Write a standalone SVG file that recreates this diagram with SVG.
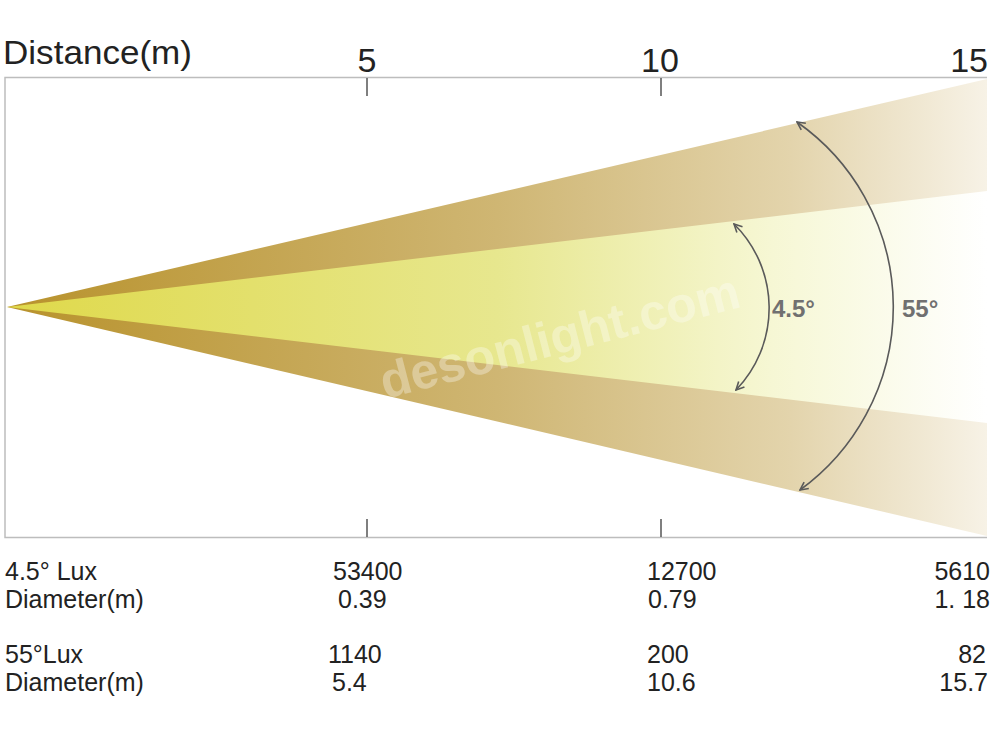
<svg xmlns="http://www.w3.org/2000/svg" width="1000" height="755" viewBox="0 0 1000 755">
<style>
.t{font-family:"Liberation Sans",Arial,sans-serif;fill:#222}
.ax{stroke:#bdbdbd;stroke-width:1.5;fill:none}
.tick{stroke:#555;stroke-width:1.5}
.arc{fill:none;stroke:#5a5a5a;stroke-width:1.6;marker-start:url(#ah);marker-end:url(#ah)}
.ang{font-family:"Liberation Sans",Arial,sans-serif;font-weight:bold;font-size:24px;fill:#707070}
</style>
<defs>
<linearGradient id="gOuter" gradientUnits="userSpaceOnUse" x1="7" y1="0" x2="987" y2="0">
<stop offset="0" stop-color="#b8922c"/>
<stop offset="0.5" stop-color="#cfb673"/>
<stop offset="0.8" stop-color="#e3d4ac"/>
<stop offset="1" stop-color="#f7f2e6"/>
</linearGradient>
<linearGradient id="gInner" gradientUnits="userSpaceOnUse" x1="7" y1="0" x2="987" y2="0">
<stop offset="0" stop-color="#dfd94a"/>
<stop offset="0.5" stop-color="#e7e78e"/>
<stop offset="0.78" stop-color="#f6f7d4"/>
<stop offset="1" stop-color="#ffffff"/>
</linearGradient>
<marker id="ah" viewBox="0 0 10 10" refX="9" refY="5" markerWidth="10" markerHeight="10" markerUnits="userSpaceOnUse" orient="auto-start-reverse">
<path d="M1,1 L9,5 L1,9" fill="none" stroke="#5a5a5a" stroke-width="1.6"/>
</marker>
</defs>
<rect width="1000" height="755" fill="#fff"/>
<g id="beam">
<polygon points="7,307 987,79 987,536" fill="url(#gOuter)"/>
<polygon points="7,307 987,191 987,423" fill="url(#gInner)"/>
</g>
<text x="385" y="399" transform="rotate(-14.5 385 399)" font-family="Liberation Sans,Arial,sans-serif" font-weight="bold" font-size="50" fill="#fff" fill-opacity="0.33">desonlight.com</text>
<g id="axis">
<path class="ax" d="M987,77.5 H5 V537.5 H987"/>
<line class="tick" x1="367" y1="78" x2="367" y2="96"/>
<line class="tick" x1="661" y1="78" x2="661" y2="96"/>
<line class="tick" x1="367" y1="519" x2="367" y2="537"/>
<line class="tick" x1="661" y1="519" x2="661" y2="537"/>
</g>
<g id="labels-top">
<text class="t" x="3" y="64" font-size="33" textLength="189" lengthAdjust="spacingAndGlyphs">Distance(m)</text>
<text class="t" x="367" y="72" font-size="34" text-anchor="middle">5</text>
<text class="t" x="660" y="72" font-size="34" text-anchor="middle">10</text>
<text class="t" x="988" y="72" font-size="34" text-anchor="end">15</text>
</g>
<g id="connectors">
<path class="arc" d="M734,224 A118,118 0 0 1 736,390"/>
<path class="arc" d="M797,122 A226,226 0 0 1 800,490"/>
</g>
<g id="angle-labels">
<text class="ang" x="772" y="317">4.5°</text>
<text class="ang" x="902" y="317">55°</text>
</g>
<g id="table" font-size="25">
<text class="t" x="5" y="580">4.5° Lux</text>
<text class="t" x="5" y="608">Diameter(m)</text>
<text class="t" x="5" y="663">55°Lux</text>
<text class="t" x="5" y="691">Diameter(m)</text>
<text class="t" x="333" y="580">53400</text>
<text class="t" x="338" y="608">0.39</text>
<text class="t" x="328" y="663">1140</text>
<text class="t" x="332" y="691">5.4</text>
<text class="t" x="647" y="580">12700</text>
<text class="t" x="648" y="608">0.79</text>
<text class="t" x="647" y="663">200</text>
<text class="t" x="647" y="691">10.6</text>
<text class="t" x="990" y="580" text-anchor="end">5610</text>
<text class="t" x="990" y="608" text-anchor="end">1. 18</text>
<text class="t" x="986" y="663" text-anchor="end">82</text>
<text class="t" x="988" y="691" text-anchor="end">15.7</text>
</g>
</svg>
